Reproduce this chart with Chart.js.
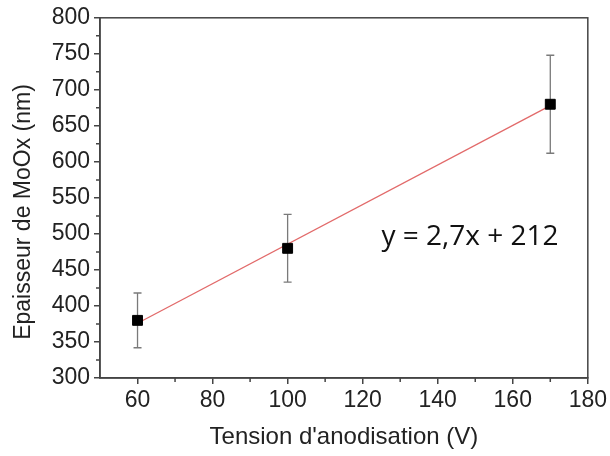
<!DOCTYPE html>
<html>
<head>
<meta charset="utf-8">
<script src="https://cdn.jsdelivr.net/npm/chart.js@4"></script>
<style>
  html, body { margin: 0; padding: 0; background: #fff; }
  #wrap { width: 610px; height: 456px; }
</style>
</head>
<body>
<div id="wrap"><canvas id="c"></canvas></div>
<script>
// données
const tensions = [60, 100, 170];
const epaisseurs = [380, 480, 680];
const erreurs = [38, 47, 68];
const fitX = [60, 170];
const fitY = [376, 678];
const xTicks = [60, 80, 100, 120, 140, 160, 180];
const yTicks = [300, 350, 400, 450, 500, 550, 600, 650, 700, 750, 800];
const equation = 'y = 2,7x + 212';
const titreY = 'Epaisseur de MoOx (nm)';

Chart.defaults.font.family = "'Liberation Sans', Arial, sans-serif";
Chart.defaults.color = '#222';

// barres d'erreur + cadre + petites graduations
const extras = {
  id: 'extras',
  beforeDatasetsDraw(chart) {
    const { ctx, scales: { x, y } } = chart;
    ctx.save();
    ctx.strokeStyle = '#7a7a7a';
    ctx.lineWidth = 1.3;
    tensions.forEach((t, i) => {
      const px = x.getPixelForValue(t);
      const top = y.getPixelForValue(epaisseurs[i] + erreurs[i]);
      const bot = y.getPixelForValue(epaisseurs[i] - erreurs[i]);
      ctx.beginPath();
      ctx.moveTo(px, top); ctx.lineTo(px, bot);
      ctx.moveTo(px - 4, top); ctx.lineTo(px + 4, top);
      ctx.moveTo(px - 4, bot); ctx.lineTo(px + 4, bot);
      ctx.stroke();
    });
    ctx.restore();
  },
  afterDraw(chart) {
    const { ctx, chartArea: a, scales: { x, y } } = chart;
    ctx.save();
    ctx.strokeStyle = '#444';
    ctx.lineWidth = 1.5;
    ctx.strokeRect(a.left, a.top, a.right - a.left, a.bottom - a.top);
    // petites graduations
    ctx.beginPath();
    for (let v = 70; v < 180; v += 20) {
      const px = x.getPixelForValue(v);
      ctx.moveTo(px, a.bottom); ctx.lineTo(px, a.bottom + 4);
    }
    for (let v = 325; v < 800; v += 50) {
      const py = y.getPixelForValue(v);
      ctx.moveTo(a.left, py); ctx.lineTo(a.left - 4, py);
    }
    ctx.stroke();
    // équation
    ctx.fillStyle = '#111';
    ctx.font = "28px 'Open Sans', sans-serif";
    ctx.textBaseline = 'alphabetic';
    ctx.fillText(equation, x.getPixelForValue(125.0), y.getPixelForValue(484));
    // titre de l'axe y
    ctx.fillStyle = '#222';
    ctx.font = "23px 'Liberation Sans', Arial, sans-serif";
    ctx.textAlign = 'center';
    ctx.textBaseline = 'middle';
    ctx.translate(24, 212);
    ctx.rotate(-Math.PI / 2);
    ctx.fillText(titreY, 0, 0);
    ctx.restore();
  }
};

new Chart(document.getElementById('c'), {
  type: 'scatter',
  data: {
    datasets: [
      {
        label: 'Epaisseur',
        data: tensions.map((t, i) => ({ x: t, y: epaisseurs[i] })),
        pointStyle: 'rect',
        pointRadius: 7,
        backgroundColor: '#000',
        borderColor: '#000',
        order: 0
      },
      {
        label: 'Ajustement',
        type: 'line',
        data: fitX.map((t, i) => ({ x: t, y: fitY[i] })),
        borderColor: '#e26a6a',
        borderWidth: 1.3,
        pointRadius: 0,
        fill: false,
        order: 1
      }
    ]
  },
  options: {
    responsive: true,
    maintainAspectRatio: false,
    animation: false,
    layout: { padding: { top: 17, right: 21, left: 0, bottom: 0 } },
    plugins: { legend: { display: false }, tooltip: { enabled: false } },
    scales: {
      x: {
        type: 'linear',
        min: 50, max: 180,
        afterFit(s) { s.height = 78; },
        afterBuildTicks(s) { s.ticks = xTicks.map(v => ({ value: v })); },
        ticks: { font: { size: 23 }, padding: 3, color: '#222', autoSkip: false, maxRotation: 0 },
        grid: { drawOnChartArea: false, tickLength: 6, color: '#444', lineWidth: 1.5 },
        border: { color: '#444', width: 1.5 },
        title: { display: true, text: "Tension d'anodisation (V)", font: { size: 24 }, padding: { top: 7 }, color: '#222' }
      },
      y: {
        min: 300, max: 800,
        afterFit(s) { s.width = 100; },
        afterBuildTicks(s) { s.ticks = yTicks.map(v => ({ value: v })); },
        ticks: { font: { size: 23 }, padding: 4, color: '#222', autoSkip: false },
        grid: { drawOnChartArea: false, tickLength: 6, color: '#444', lineWidth: 1.5 },
        border: { color: '#444', width: 1.5 },
        title: { display: false }
      }
    }
  },
  plugins: [extras]
});
</script>
</body>
</html>
